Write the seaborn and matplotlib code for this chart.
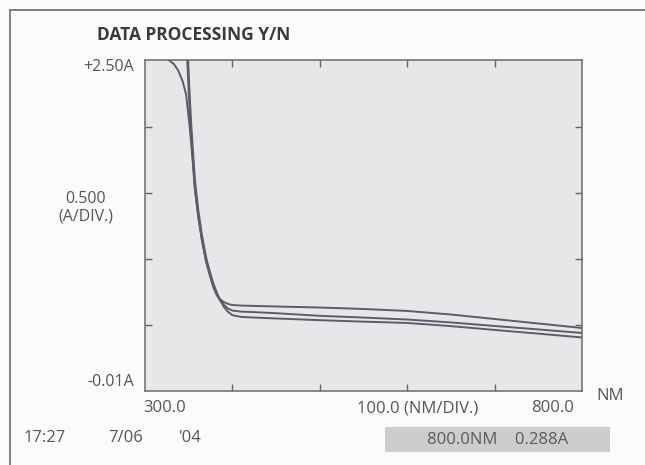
import matplotlib
matplotlib.use("Agg")
import matplotlib.pyplot as plt
from matplotlib.patches import Rectangle
from matplotlib.lines import Line2D
import seaborn as sns
import pandas as pd

# wavelengths (nm) shared by the three scans
wavelength = [300, 320, 327, 333, 338, 343, 347, 349, 351, 353, 355, 357, 361, 365, 370, 374,
              378, 382, 386, 390, 395, 400, 410, 425, 450, 500, 550, 600, 650, 700, 750, 800]

# absorbance of each scan, values above 2.5 run off the top of the screen
scan_1 = [2.70, 2.60, 2.50, 2.47, 2.42, 2.34, 2.24, 2.12, 2.00, 1.86, 1.70, 1.53, 1.31, 1.14, 0.97, 0.87,
          0.78, 0.72, 0.685, 0.665, 0.650, 0.642, 0.638, 0.635, 0.631, 0.623, 0.612, 0.597, 0.570, 0.536, 0.502, 0.468]
scan_2 = [2.90, 2.90, 2.90, 2.90, 2.90, 2.90, 2.70, 2.40, 2.12, 1.90, 1.72, 1.53, 1.31, 1.14, 0.97, 0.88,
          0.79, 0.72, 0.675, 0.645, 0.615, 0.600, 0.592, 0.588, 0.580, 0.560, 0.547, 0.532, 0.510, 0.483, 0.457, 0.430]
scan_3 = [2.90, 2.90, 2.90, 2.90, 2.90, 2.90, 2.85, 2.55, 2.25, 2.00, 1.80, 1.60, 1.36, 1.18, 1.00, 0.90,
          0.81, 0.74, 0.68, 0.63, 0.59, 0.565, 0.552, 0.547, 0.540, 0.527, 0.516, 0.506, 0.482, 0.453, 0.425, 0.396]

x_min, x_max = 300.0, 800.0
y_min, y_max = -0.01, 2.50
x_ticks = [400, 500, 600, 700]
y_ticks = [0.49, 0.99, 1.49, 1.99]

title = "DATA PROCESSING Y/N"
y_top_label = "+2.50A"
y_bottom_label = "-0.01A"
y_div_label = "0.500\n(A/DIV.)"
x_left_label = "300.0"
x_div_label = "100.0 (NM/DIV.)"
x_right_label = "800.0"
x_unit = "NM"
timestamp = ["17:27", "7/06", "'04"]
readout = "800.0NM    0.288A"

#long table for seaborn
frames = []
for name, vals in [("1", scan_1), ("2", scan_2), ("3", scan_3)]:
    frames.append(pd.DataFrame({"nm": wavelength, "abs": vals, "scan": name}))
df = pd.concat(frames)

sns.set_theme(style="white")
plt.rcParams["font.family"] = ["Open Sans", "DejaVu Sans"]

text_col = "#555555"
line_col = "#5c5c68"

fig = plt.figure(figsize=(6.45, 4.65), dpi=100)
fig.patch.set_facecolor("#fbfbfb")
ax = fig.add_axes([145 / 645, 1 - 391 / 465, 437 / 645, 331 / 465])
ax.set_facecolor("#e7e7ea")

sns.lineplot(data=df, x="nm", y="abs", hue="scan", palette=[line_col] * 3,
             linewidth=1.4, legend=False, ax=ax, sort=False)

ax.set_xlim(x_min, x_max)
ax.set_ylim(y_min, y_max)
ax.set_xticks(x_ticks)
ax.set_yticks(y_ticks)
ax.tick_params(direction="in", length=5, width=1, color="#666666",
               top=True, right=True, bottom=True, left=True,
               labelbottom=False, labelleft=False)
ax.set_xlabel("")
ax.set_ylabel("")
for s in ax.spines.values():
    s.set_color("#6a6a6a")
    s.set_linewidth(1.1)

# outer screen frame (top and left only visible)
fig.add_artist(Line2D([10 / 645, 1], [1 - 10 / 465] * 2, color="#6a6a6a", lw=1.2))
fig.add_artist(Line2D([10 / 645] * 2, [0, 1 - 10 / 465], color="#6a6a6a", lw=1.2))

def px(x, y):
    return x / 645, 1 - y / 465

fig.text(*px(97, 35), title, fontsize=12.5, fontweight="bold", color="#3a3a3a", va="center", ha="left")
fig.text(*px(134, 67), y_top_label, fontsize=11.5, color=text_col, va="center", ha="right")
fig.text(*px(86, 208), y_div_label, fontsize=11.5, color=text_col, va="center", ha="center",
         linespacing=1.1)
fig.text(*px(134, 382), y_bottom_label, fontsize=11.5, color=text_col, va="center", ha="right")
fig.text(*px(165, 408), x_left_label, fontsize=12, color=text_col, va="center", ha="center")
fig.text(*px(418, 408), x_div_label, fontsize=12, color=text_col, va="center", ha="center")
fig.text(*px(553, 408), x_right_label, fontsize=12, color=text_col, va="center", ha="center")
fig.text(*px(610, 396), x_unit, fontsize=12, color=text_col, va="center", ha="center")

fig.text(*px(45, 438), timestamp[0], fontsize=12, color=text_col, va="center", ha="center")
fig.text(*px(126, 438), timestamp[1], fontsize=12, color=text_col, va="center", ha="center")
fig.text(*px(190, 438), timestamp[2], fontsize=12, color=text_col, va="center", ha="center")

fig.add_artist(Rectangle(px(385, 452), 225 / 645, 25 / 465, transform=fig.transFigure,
                         facecolor="#cdcdd0", edgecolor="none"))
fig.text(*px(498, 440), readout, fontsize=12, color="#5a5a5a", va="center", ha="center")

fig.savefig("out.png", dpi=100)
